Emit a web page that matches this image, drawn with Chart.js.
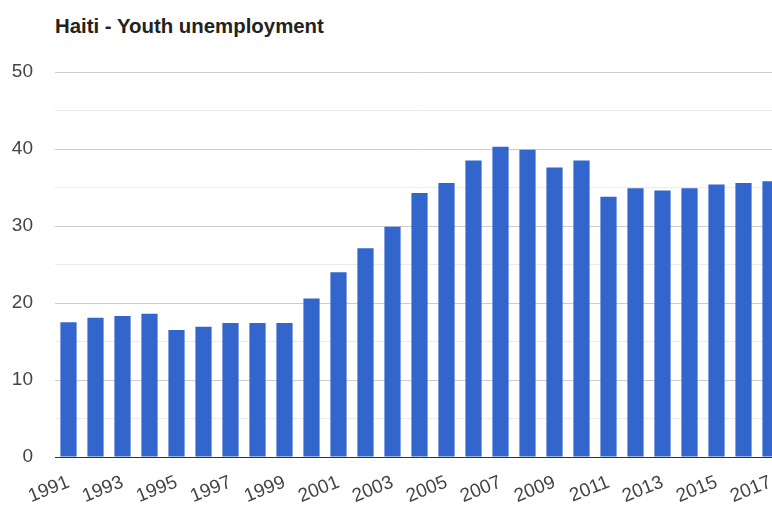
<!DOCTYPE html>
<html>
<head>
<meta charset="utf-8">
<script src="https://cdn.jsdelivr.net/npm/chart.js@4/dist/chart.umd.min.js"></script>
<style>
  html, body { margin: 0; padding: 0; background: #fff; overflow: hidden; }
  #wrap { position: relative; width: 772px; height: 506px; overflow: hidden; }
  #title {
    position: absolute; left: 55px; top: 14px;
    font: bold 20.4px "Liberation Sans", Arial, sans-serif;
    line-height: 24px; color: #222; white-space: nowrap;
  }
  canvas { position: absolute; left: 0; top: 0; }
</style>
</head>
<body>
<div id="wrap">
  <div id="title">Haiti - Youth unemployment</div>
  <canvas id="chart" width="786" height="506"></canvas>
</div>
<script>
  const years = ['1991', '1992', '1993', '1994', '1995', '1996', '1997', '1998', '1999', '2000',
    '2001', '2002', '2003', '2004', '2005', '2006', '2007', '2008', '2009', '2010',
    '2011', '2012', '2013', '2014', '2015', '2016', '2017'];
  const unemployment = [17.5, 18.1, 18.3, 18.6, 16.5, 16.9, 17.4, 17.4, 17.4, 20.6,
    24.0, 27.1, 29.9, 34.3, 35.6, 38.5, 40.3, 39.9, 37.6, 38.5,
    33.8, 34.9, 34.6, 34.9, 35.4, 35.6, 35.8];
  const yTicks = [0, 10, 20, 30, 40, 50];

  const font = { family: '"Liberation Sans", Arial, sans-serif', size: 19 };

  new Chart(document.getElementById('chart'), {
    type: 'bar',
    data: {
      labels: years,
      datasets: [{
        label: 'Youth unemployment',
        data: unemployment,
        backgroundColor: '#3366cc',
        barPercentage: 0.6,
        categoryPercentage: 1.0
      }]
    },
    options: {
      responsive: false,
      animation: false,
      layout: { padding: { left: 12, right: 2, top: 72, bottom: 4 } },
      plugins: {
        legend: { display: false },
        title: { display: false },
        tooltip: { enabled: false }
      },
      scales: {
        x: {
          grid: { display: false },
          border: { display: false },
          afterFit: scale => {
            // rotated labels hang left of their tick; keep the plot where the y axis ends
            scale.paddingLeft = 0;
            scale.paddingRight = 0;
            scale.height = 45;
          },
          ticks: {
            font: font,
            color: '#444',
            autoSkip: false,
            minRotation: 22,
            maxRotation: 22,
            padding: 6,
            callback: (v, i) => (i % 2 === 0 ? years[i] : '')
          }
        },
        y: {
          min: 0,
          max: 50,
          border: { display: false },
          afterFit: scale => { scale.width = 43; },
          grid: {
            drawTicks: false,
            color: ctx => {
              const v = ctx.tick.value;
              if (v === 0) return '#333';
              return yTicks.includes(v) ? '#cccccc' : '#ebebeb';
            }
          },
          ticks: {
            stepSize: 5,
            font: font,
            color: '#444',
            padding: 22,
            callback: v => (yTicks.includes(v) ? v : '')
          }
        }
      }
    }
  });
</script>
</body>
</html>
